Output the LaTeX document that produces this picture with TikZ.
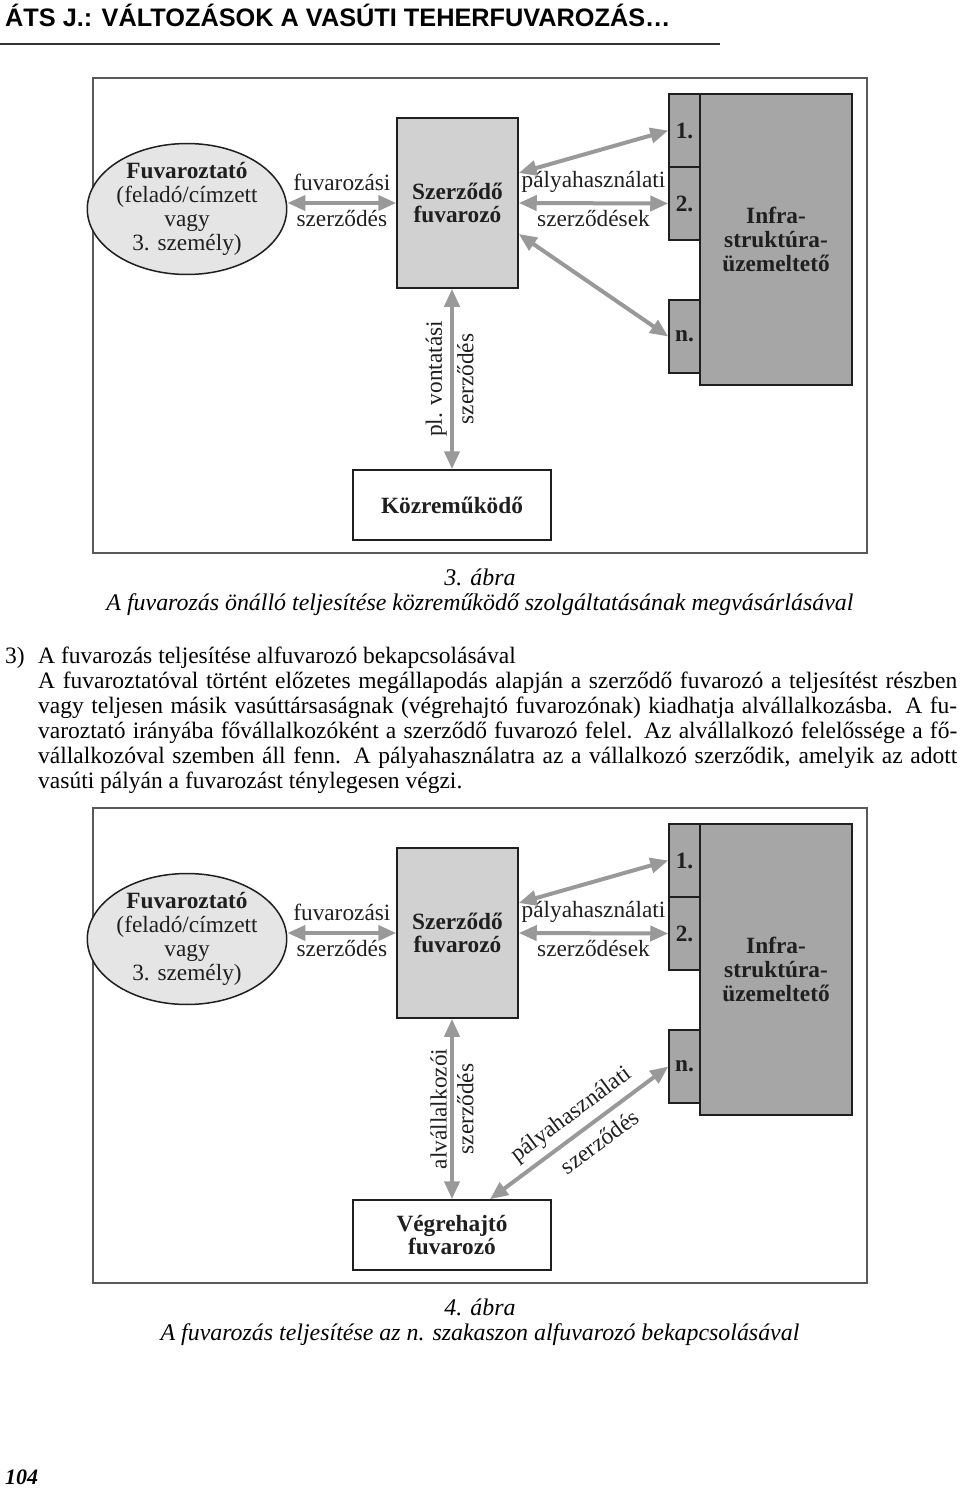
\documentclass[tikz,border=0pt]{standalone}
\usepackage{fontspec}
\setmainfont{Liberation Serif}
\setsansfont{Liberation Sans}
\usepackage{xcolor}
\usepackage{tikz}
\usetikzlibrary{arrows.meta}
\usetikzlibrary{shapes.geometric, calc}
\definecolor{ovalgray}{gray}{0.9}
\definecolor{carriergray}{gray}{0.82}
\definecolor{infragray}{gray}{0.65}
\definecolor{arrowgray}{gray}{0.6}
\definecolor{framegray}{gray}{0.35}
\definecolor{inkgray}{gray}{0.12}
\newcommand{\diagfont}{\fontsize{23.3}{23.8}\selectfont}
\newcommand{\bodyfont}{\fontsize{23.5}{25}\selectfont}
\newcommand{\capfont}{\fontsize{23.9}{25}\selectfont\itshape}
\newcommand{\headfont}{\fontsize{25.3}{26}\selectfont\sffamily\bfseries}

\tikzset{
  contract/.style={draw=arrowgray, line width=4pt, {Triangle[length=18pt,width=15pt]}-{Triangle[length=18pt,width=15pt]}},
  party/.style={draw=inkgray, line width=1.5pt, text=inkgray, font=\diagfont\bfseries, align=center, inner sep=0pt},
  section/.style={party, fill=infragray, minimum width=31pt, minimum height=73pt},
  tag/.style={font=\diagfont, text=inkgray, inner sep=2pt},
  figframe/.style={draw=framegray, line width=2pt},
}

\begin{document}
\begin{tikzpicture}[x=1pt, y=-1pt]
    \useasboundingbox (0,0) rectangle (960,1488);
    % running head
    \node[font=\headfont, anchor=base west, inner sep=0pt] (head) at (5,27) {ÁTS J.: VÁLTOZÁSOK A VASÚTI TEHERFUVAROZÁS…};
    \draw[line width=2pt, black!80] (0,44) -- (720,44);

    % the two figures share most of their parts
    \foreach \f/\dy/\who/\along in {a/0/Közreműködő/pl. vontatási, b/730/{Végrehajtó\\fuvarozó}/alvállalkozói} {
      \begin{scope}[shift={(0,\dy)}]
        \draw[figframe] (93,78) rectangle (867,553);
        \node[party, ellipse, fill=ovalgray, font=\diagfont, minimum width=175pt, minimum height=118pt] (shipper-\f) at (187,209) {\textbf{Fuvaroztató}\\(feladó/címzett\\vagy\\3. személy)};
        \node[party, fill=carriergray, minimum width=121pt, minimum height=170pt] (carrier-\f) at (457.5,203) {Szerződő\\fuvarozó};
        \node[section] (sec1-\f) at (684.5,130.5) {1.};
        \node[section] (sec2-\f) at (684.5,203.5) {2.};
        \node[section] (secn-\f) at (684.5,336.5) {n.};
        \node[party, fill=infragray, minimum width=152pt, minimum height=291pt] (infra-\f) at (776,239.5) {Infra-\\struktúra-\\üzemeltető};
        \node[party, fill=white, minimum width=198pt, minimum height=70pt] (sub-\f) at (452,505) {\who};
        % contracts
        \draw[contract] (shipper-\f.east |- carrier-\f.west) -- (carrier-\f.west)
          node[tag, midway, above=8pt] {fuvarozási}
          node[tag, midway, below=3pt] {szerződés};
        \draw[contract] ($(carrier-\f.east)+(0,-30)$) -- (sec1-\f.west);
        \draw[contract] (carrier-\f.east) -- (sec2-\f.west)
          node[tag, midway, above=7pt] {pályahasználati}
          node[tag, midway, below=3pt] {szerződések};
        \coordinate (foot-\f) at (sub-\f.north |- carrier-\f.south);
        \draw[contract] (foot-\f) -- (sub-\f.north);
        \node[tag, rotate=90, anchor=south] at ($(foot-\f)!0.5!(sub-\f.north)+(-3,0)$) {\along};
        \node[tag, rotate=90, anchor=north] at ($(foot-\f)!0.5!(sub-\f.north)+(3,0)$) {szerződés};
      \end{scope}
    }
    % what differs
    \draw[contract] ($(carrier-a.east)+(0,31)$) -- (secn-a.west);
    \draw[contract] ($(sub-b.north)+(38,0)$) -- (secn-b.west)
      node[tag, pos=0.52, sloped, above=4pt] {pályahasználati}
      node[tag, pos=0.55, sloped, below=7pt] {szerződés};

    % captions
    \node[font=\capfont, align=center, inner sep=0pt] (cap3) at (480,592.5) {3. ábra\\A fuvarozás önálló teljesítése közreműködő szolgáltatásának megvásárlásával};
    \node[font=\capfont, align=center, inner sep=0pt] (cap4) at (480,1322.5) {4. ábra\\A fuvarozás teljesítése az n. szakaszon alfuvarozó bekapcsolásával};

    % running text
    \node[font=\bodyfont, anchor=north west, inner sep=0pt] (item) at (5,647) {3)};
    \node[font=\bodyfont, anchor=north west, inner sep=0pt, text width=919pt, align=justify] (body) at (38,647) {\hyphenpenalty=10000
      A fuvarozás teljesítése alfuvarozó bekapcsolásával\\
      A fuvaroztatóval történt előzetes megállapodás alapján a szerződő fuvarozó a teljesítést részben\linebreak
      vagy teljesen másik vasúttársaságnak (végrehajtó fuvarozónak) kiadhatja alvállalkozásba. A fu-\linebreak
      varoztató irányába fővállalkozóként a szerződő fuvarozó felel. Az alvállalkozó felelőssége a fő-\linebreak
      vállalkozóval szemben áll fenn. A pályahasználatra az a vállalkozó szerződik, amelyik az adott\linebreak
      vasúti pályán a fuvarozást ténylegesen végzi.};

    \node[font=\fontsize{22}{24}\selectfont\bfseries\itshape, anchor=base west, inner sep=0pt] (folio) at (5,1484) {104};
\end{tikzpicture}
\end{document}
